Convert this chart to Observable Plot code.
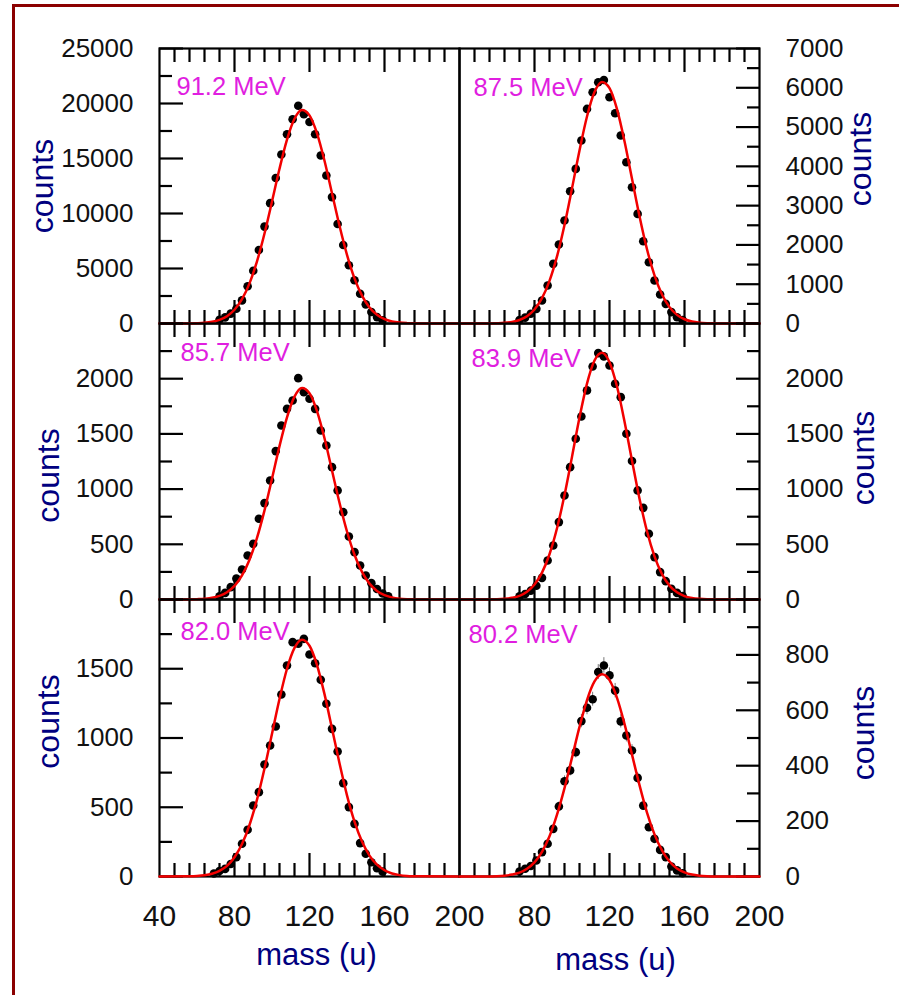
<!DOCTYPE html>
<html><head><meta charset="utf-8">
<script src="https://cdn.jsdelivr.net/npm/d3@7"></script>
<script src="https://cdn.jsdelivr.net/npm/@observablehq/plot@0.6"></script>
<style>
html,body{margin:0;padding:0;background:#fff;overflow:hidden;}
#wrap{position:relative;width:899px;height:995px;overflow:hidden;background:#fff;}
#border{position:absolute;left:12px;top:4px;width:1000px;height:1100px;border-left:3px solid #8b0000;border-top:3px solid #8b0000;}
#wrap svg{position:absolute;left:0;top:0;}
</style></head><body><div id="wrap"><div id="border"></div></div>
<script>
// ---------------- data ----------------
const energyLabels = ["91.2 MeV", "87.5 MeV", "85.7 MeV", "83.9 MeV", "82.0 MeV", "80.2 MeV"];

const mass = [42,45,48,51,54,57,60,63,66,69,72,75,78,81,84,87,90,93,96,99,102,105,108,111,114,117,120,123,126,129,132,135,138,141,144,147,150,153,156,159,162,165,168,171,174,177,180,183,186,189,192,195,198];

// 0 = no visible point
const counts912 = [0,0,0,0,0,0,0,0,0,0,340,560,900,1340,2100,3380,4790,6680,8810,10940,13230,15370,17200,18570,19790,19020,18320,17200,15270,13450,11490,9050,7130,5300,3930,2710,1740,1040,580,300,0,0,0,0,0,0,0,0,0,0,0,0,0];
const counts875 = [0,0,0,0,0,0,0,0,0,0,90,150,250,373,585,967,1518,2010,2620,3367,3935,4657,5462,5886,6140,6200,5760,5350,4784,4105,3469,2790,2095,1560,1094,738,500,290,160,85,0,0,0,0,0,0,0,0,0,0,0,0,0];
const counts857 = [0,0,0,0,0,0,0,0,0,0,30,60,112,190,272,399,504,731,873,1078,1344,1576,1727,1803,2005,1878,1818,1727,1531,1395,1199,988,791,571,429,308,217,148,95,55,28,0,0,0,0,0,0,0,0,0,0,0,0];
const counts839 = [0,0,0,0,0,0,0,0,0,0,28,50,80,125,196,353,489,701,942,1199,1456,1658,1894,2111,2232,2202,2120,1954,1833,1501,1254,988,830,595,384,248,166,97,60,32,0,0,0,0,0,0,0,0,0,0,0,0,0];
const counts820 = [0,0,0,0,0,0,0,0,0,22,40,55,90,140,236,337,513,609,809,946,1083,1314,1524,1692,1680,1716,1603,1540,1420,1247,1066,903,674,501,380,241,164,103,60,35,0,0,0,0,0,0,0,0,0,0,0,0,0];
const counts802 = [0,0,0,0,0,0,0,0,0,0,18,28,38,58,88,118,172,253,344,383,449,561,609,640,738,762,726,671,560,509,455,356,256,178,136,96,70,36,22,12,0,0,0,0,0,0,0,0,0,0,0,0,0];
// visible error bars (80.2 MeV panel)
const err802 = [0,0,0,0,0,0,0,0,0,0,4,5,6,8,9,11,13,16,19,20,21,24,25,25,27,28,27,26,24,23,21,19,16,13,12,10,8,6,5,3,0,0,0,0,0,0,0,0,0,0,0,0,0];

const fitMass = [40,56,60,64,68,72,76,80,84,88,92,96,100,104,108,112,116,120,124,128,132,136,140,144,148,152,156,160,164,168,172,176,180,200];
const fit912 = [0,5,27,67,155,330,667,1250,2210,3650,5650,8180,11090,14070,16720,18610,19400,18920,17280,14790,11840,8880,6240,4100,2530,1460,790,397,190,83,34,13,5,0];
const fit875 = [0,2,7,17,41,90,186,357,644,1085,1707,2506,3440,4405,5270,5890,6147,5990,5455,4637,3682,2731,1890,1223,738,417,220,108,50,21,8,3,1,0];
const fit857 = [0,0,3,7,15,33,66,123,218,360,558,807,1095,1389,1650,1837,1915,1868,1706,1460,1169,876,616,405,250,144,78,39,19,8,3,1,0,0];
const fit839 = [0,1,2,6,15,33,70,135,243,410,645,946,1292,1648,1956,2165,2235,2150,1929,1613,1258,913,618,391,230,126,65,31,14,6,2,1,0,0];
const fit820 = [0,2,4,9,20,41,77,139,234,372,555,780,1031,1282,1500,1651,1710,1666,1527,1317,1069,817,586,396,252,151,85,45,22,10,4,2,1,0];
const fit802 = [0,0,1,3,7,14,28,51,89,145,223,319,429,540,637,704,730,709,645,551,440,330,231,152,94,54,29,15,7,3,1,0,0,0];

// tick values
const xMajor = [80,120,160];
const xMinor = [48,56,64,72,88,96,104,112,128,136,144,152,168,176,184,192];
const xLabelsLeft = [40,80,120,160,200];
const xLabelsRight = [80,120,160,200];

const yDomains = [25000, 7000, 2500, 2500, 2000, 1000];
const yMajor1 = [0,5000,10000,15000,20000,25000];
const yMinor1 = [2500,7500,12500,17500,22500];
const yLabels1 = [0,5000,10000,15000,20000,25000];
const yMajor2 = [0,1000,2000,3000,4000,5000,6000,7000];
const yMinor2 = [500,1500,2500,3500,4500,5500,6500];
const yLabels2 = [0,1000,2000,3000,4000,5000,6000,7000];
const yMajor3 = [0,500,1000,1500,2000,2500];
const yMinor3 = [250,750,1250,1750,2250];
const yLabels3 = [0,500,1000,1500,2000];
const yMajor4 = [0,500,1000,1500,2000,2500];
const yMinor4 = [250,750,1250,1750,2250];
const yLabels4 = [0,500,1000,1500,2000];
const yMajor5 = [0,500,1000,1500,2000];
const yMinor5 = [250,750,1250,1750];
const yLabels5 = [0,500,1000,1500];
const yMajor6 = [0,200,400,600,800,1000];
const yMinor6 = [100,300,500,700,900];
const yLabels6 = [0,200,400,600,800];

// ---------------- layout ----------------
const W = 899, H = 995;
const rowTop = [48, 323, 599], rowBottom = [323, 599, 876];
const colLeft = [159, 459], colRight = [459, 759];
const FONT = "'Liberation Sans', Arial, Helvetica, sans-serif";
const NAVY = "#00007f", MAGENTA = "#e01ee0", RED = "#f20000";
const fmt = d => String(d);

const countsList = [counts912, counts875, counts857, counts839, counts820, counts802];
const errList = [null, null, null, null, null, err802];
const fitList = [fit912, fit875, fit857, fit839, fit820, fit802];
const majors = [yMajor1, yMajor2, yMajor3, yMajor4, yMajor5, yMajor6];
const minors = [yMinor1, yMinor2, yMinor3, yMinor4, yMinor5, yMinor6];
const ylabs = [yLabels1, yLabels2, yLabels3, yLabels4, yLabels5, yLabels6];
const energyOff = [[17, 38.5], [14, 39.5], [21, 29.5], [12, 35.5], [21, 32.5], [9, 35]];
const countsOff = [[-116.5, 0], [101, -27], [-111, 14], [104, -3.5], [-111, -16.5], [104, -5]];

const wrap = document.getElementById("wrap");

for (let i = 0; i < 6; i++) {
  const row = Math.floor(i / 2), col = i % 2;
  const side = col === 0 ? "left" : "right";
  const pts = mass.map((m, k) => ({m, c: countsList[i][k], e: errList[i] ? errList[i][k] : 0})).filter(d => d.c > 0);
  const fit = fitMass.map((m, k) => ({m, c: fitList[i][k]}));
  const marks = [
    Plot.frame({stroke: "#000", strokeWidth: 2.2}),
    Plot.axisX(xMajor, {anchor: "top", tickSize: -23, fill: "none", strokeWidth: 2.2, label: null}),
    Plot.axisX(xMinor, {anchor: "top", tickSize: -13, fill: "none", strokeWidth: 2.2, label: null}),
    Plot.axisX(xMajor, {anchor: "bottom", tickSize: -23, fill: "none", strokeWidth: 2.2, label: null}),
    Plot.axisX(xMinor, {anchor: "bottom", tickSize: -13, fill: "none", strokeWidth: 2.2, label: null}),
    Plot.axisY(majors[i], {anchor: side, tickSize: -24, fill: "none", strokeWidth: 2.2, label: null}),
    Plot.axisY(minors[i], {anchor: side, tickSize: -13, fill: "none", strokeWidth: 2.2, label: null}),
    Plot.axisY(ylabs[i], {anchor: side, tickSize: 0, tickPadding: 26, fontSize: 26, fill: "#111", tickFormat: fmt, label: null}),
    row === 2 ? Plot.axisX(col === 0 ? xLabelsLeft : xLabelsRight, {anchor: "bottom", tickSize: 0, tickPadding: 28, fontSize: 30, fill: "#111", tickFormat: fmt, label: null}) : null,
    errList[i] ? Plot.ruleX(pts.filter(d => d.e > 0), {x: "m", y1: d => d.c - d.e, y2: d => d.c + d.e, stroke: "#777", strokeWidth: 1}) : null,
    Plot.dot(pts, {x: "m", y: "c", r: 4.3, fill: "#000", stroke: "none"}),
    Plot.line(fit, {x: "m", y: "c", stroke: RED, strokeWidth: 2.5, curve: "monotone-x"}),
    Plot.text([energyLabels[i]], {frameAnchor: "top-left", dx: energyOff[i][0], dy: energyOff[i][1], textAnchor: "start", lineAnchor: "middle", fill: MAGENTA, fontSize: 25.5}),
    Plot.text(["counts"], {frameAnchor: side, dx: countsOff[i][0], dy: countsOff[i][1], rotate: -90, textAnchor: "middle", lineAnchor: "middle", fill: NAVY, fontSize: 32}),
    row === 2 ? Plot.text(["mass (u)"], {frameAnchor: "bottom", dx: col === 0 ? 7 : 6, dy: col === 0 ? 79 : 84, textAnchor: "middle", lineAnchor: "middle", fill: NAVY, fontSize: 31}) : null
  ];
  const svg = Plot.plot({
    width: W, height: H,
    marginLeft: colLeft[col], marginRight: W - colRight[col],
    marginTop: rowTop[row], marginBottom: H - rowBottom[row],
    x: {domain: [40, 200]},
    y: {domain: [0, yDomains[i]]},
    style: {fontFamily: FONT, background: "transparent", overflow: "visible", position: "absolute", left: "0px", top: "0px", maxWidth: "none"},
    marks
  });
  wrap.appendChild(svg);
}
</script></body></html>
